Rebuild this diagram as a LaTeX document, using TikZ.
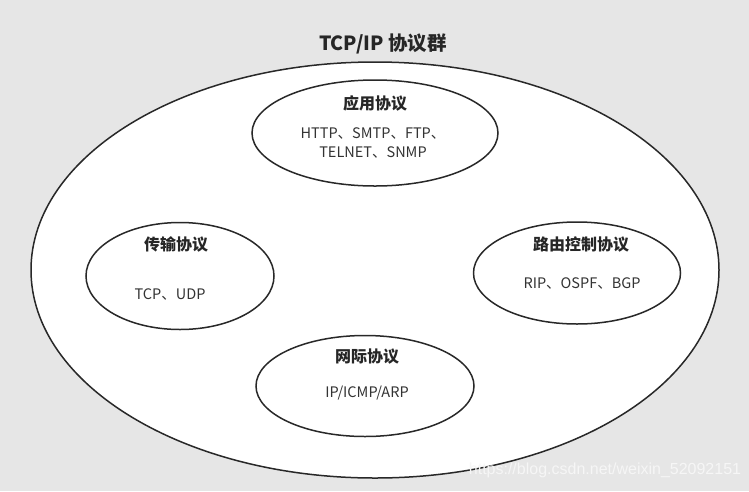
\documentclass[tikz,border=0pt]{standalone}
\usepackage{fontspec}
\setmainfont{Noto Sans CJK SC}
\newfontfamily\markfont{Liberation Sans}
\usetikzlibrary{positioning,shapes.geometric}
\definecolor{bggray}{RGB}{230,230,230}
\definecolor{edgegray}{RGB}{40,40,40}
\definecolor{markgray}{RGB}{246,246,246}

\begin{document}
\begin{tikzpicture}[x=1pt, y=-1pt,
    group/.style={ellipse, draw=edgegray, line width=1.5pt, fill=white, inner sep=0pt},
    head/.style={font=\bfseries\fontsize{16}{19}\selectfont, text=black!85},
    body/.style={font=\fontsize{14.5}{19}\selectfont, text=black!80, align=center}
  ]
    \fill[bggray] (0,0) rectangle (749,491);
    \node[font=\bfseries\fontsize{19.5}{23}\selectfont, text=black!85] (title) at (383,44) {TCP/IP 协议群};
    \node[group, minimum width=688, minimum height=416] (suite) at (375,270) {};
    % protocol groups
    \node[group, minimum width=246, minimum height=106] (app) at (375,133) {};
    \node[group, minimum width=188, minimum height=107] (trans) at (180,276) {};
    \node[group, minimum width=207, minimum height=102] (route) at (577,273) {};
    \node[group, minimum width=218, minimum height=101] (inet) at (365,386) {};
    \node[head] (apphead) at (375,103) {应用协议};
    \node[body] (apptext) at (373,143) {HTTP、SMTP、FTP、\\TELNET、SNMP};
    \node[head] (transhead) at (176,244) {传输协议};
    \node[body] (transtext) at (170,294) {TCP、UDP};
    \node[head] (routehead) at (581,244) {路由控制协议};
    \node[body] (routetext) at (582,283) {RIP、OSPF、BGP};
    \node[head] (inethead) at (367,357) {网际协议};
    \node[body] (inettext) at (367,393) {IP/ICMP/ARP};
    \node[font=\markfont\fontsize{16}{18}\selectfont, text=markgray] (mark) at (605,470) {https://blog.csdn.net/weixin\_52092151};
\end{tikzpicture}
\end{document}
